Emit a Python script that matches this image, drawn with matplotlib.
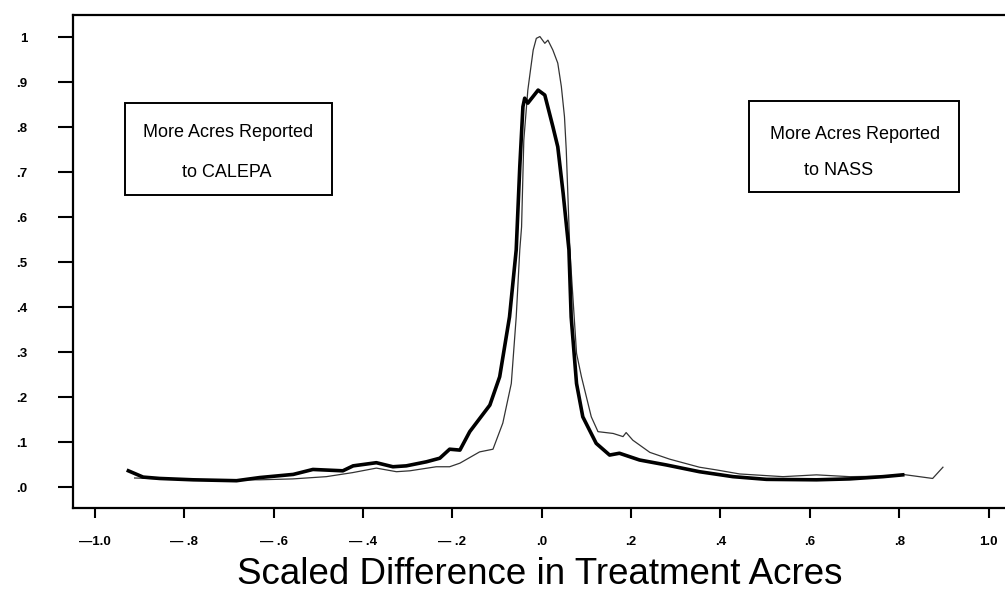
import numpy as np
import matplotlib.pyplot as plt
from matplotlib.patches import Rectangle

# thick curve
thick_x = [-0.925, -0.892, -0.855, -0.780, -0.683, -0.631, -0.556, -0.512, -0.445, -0.422,
           -0.370, -0.333, -0.303, -0.258, -0.228, -0.206, -0.183, -0.161, -0.116, -0.094,
           -0.072, -0.057, -0.049, -0.042, -0.038, -0.031, -0.008, 0.007, 0.025, 0.036,
           0.048, 0.061, 0.066, 0.078, 0.092, 0.122, 0.152, 0.174, 0.219, 0.279,
           0.353, 0.428, 0.503, 0.615, 0.689, 0.764, 0.808]
thick_y = [0.036, 0.022, 0.019, 0.016, 0.014, 0.021, 0.028, 0.039, 0.036, 0.047,
           0.054, 0.045, 0.047, 0.056, 0.064, 0.084, 0.082, 0.123, 0.182, 0.245,
           0.378, 0.527, 0.712, 0.845, 0.864, 0.853, 0.882, 0.871, 0.801, 0.756,
           0.653, 0.527, 0.378, 0.230, 0.156, 0.097, 0.071, 0.075, 0.060, 0.049,
           0.034, 0.023, 0.017, 0.016, 0.018, 0.023, 0.027]

# thin curve
thin_x = [-0.911, -0.781, -0.631, -0.557, -0.482, -0.423, -0.370, -0.325, -0.295, -0.236,
          -0.206, -0.183, -0.139, -0.109, -0.087, -0.068, -0.057, -0.049, -0.045, -0.040,
          -0.031, -0.025, -0.019, -0.012, -0.004, 0.007, 0.014, 0.025, 0.036, 0.044,
          0.051, 0.055, 0.059, 0.063, 0.078, 0.089, 0.111, 0.126, 0.160, 0.182,
          0.189, 0.204, 0.242, 0.286, 0.353, 0.391, 0.443, 0.540, 0.615, 0.689,
          0.764, 0.808, 0.875, 0.898]
thin_y = [0.020, 0.016, 0.016, 0.018, 0.023, 0.032, 0.042, 0.034, 0.036, 0.045,
          0.045, 0.053, 0.078, 0.084, 0.142, 0.230, 0.378, 0.527, 0.578, 0.771,
          0.882, 0.927, 0.971, 0.997, 1.001, 0.986, 0.993, 0.971, 0.942, 0.890,
          0.823, 0.749, 0.638, 0.527, 0.297, 0.245, 0.156, 0.123, 0.119, 0.112,
          0.121, 0.104, 0.077, 0.062, 0.044, 0.038, 0.029, 0.023, 0.027, 0.023,
          0.024, 0.028, 0.019, 0.044]

xticks = [-1.0, -0.8, -0.6, -0.4, -0.2, 0.0, 0.2, 0.4, 0.6, 0.8, 1.0]
xlabels = ['\u20141.0', '\u2014 .8', '\u2014 .6', '\u2014 .4', '\u2014 .2', '.0', '.2', '.4', '.6', '.8', '1.0']
yticks = [0, 0.1, 0.2, 0.3, 0.4, 0.5, 0.6, 0.7, 0.8, 0.9, 1.0]
ylabels = ['.0', '.1', '.2', '.3', '.4', '.5', '.6', '.7', '.8', '.9', '1']

plt.rcParams['font.family'] = ['Liberation Sans', 'DejaVu Sans']

fig = plt.figure(figsize=(10.05, 6.0), dpi=100)
ax = fig.add_axes([0.0726, 0.1533, 0.947, 0.8217])

ax.plot(thin_x, thin_y, color='#333333', lw=0.9, zorder=2)
ax.plot(thick_x, thick_y, color='black', lw=2.6, zorder=3, solid_joinstyle='round')

ax.set_xlim(-1.049, 1.081)
ax.set_ylim(-0.0467, 1.0489)

ax.set_xticks(xticks)
ax.set_xticklabels(xlabels, fontsize=9.5, fontweight='bold')
ax.set_yticks(yticks)
ax.set_yticklabels(ylabels, fontsize=9.5, fontweight='bold')
ax.tick_params(axis='x', direction='out', length=7, width=1.5, pad=13)
ax.tick_params(axis='y', direction='out', length=11, width=1.5, pad=22)

for s in ['left', 'bottom', 'top']:
    ax.spines[s].set_linewidth(1.6)
ax.spines['right'].set_visible(False)

# annotation boxes
ax.add_patch(Rectangle((-0.933, 0.649), 0.463, 0.204, fill=False, lw=1.4, color='black'))
ax.text(-0.701, 0.787, 'More Acres Reported', ha='center', va='center', fontsize=13)
ax.text(-0.705, 0.700, 'to CALEPA', ha='center', va='center', fontsize=13)

ax.add_patch(Rectangle((0.463, 0.656), 0.472, 0.202, fill=False, lw=1.4, color='black'))
ax.text(0.701, 0.784, 'More Acres Reported', ha='center', va='center', fontsize=13)
ax.text(0.664, 0.704, 'to NASS', ha='center', va='center', fontsize=13)

fig.text(0.537, 1 - 575 / 600, 'Scaled Difference in Treatment Acres',
         ha='center', va='center', fontsize=26.5)

fig.savefig('out.png', dpi=100)
